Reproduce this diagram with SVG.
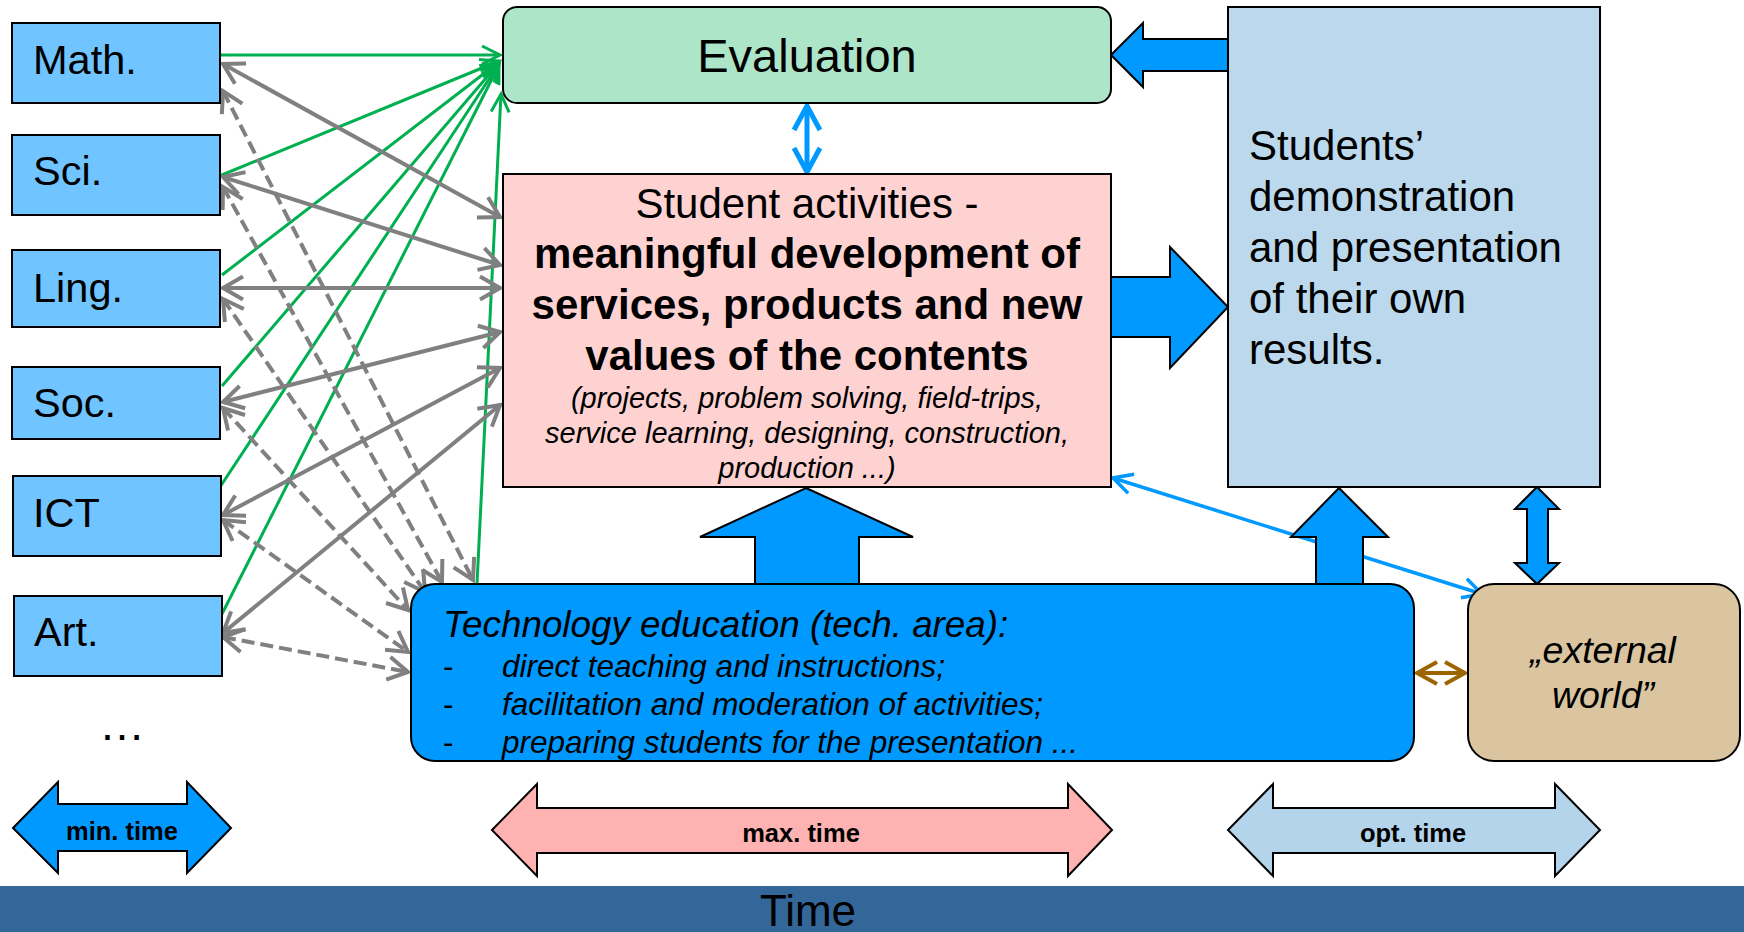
<svg xmlns="http://www.w3.org/2000/svg" width="1744" height="932" viewBox="0 0 1744 932">
<style>
text{font-family:"Liberation Sans",Arial,sans-serif;fill:#000}
.subj{fill:#70c4ff;stroke:#000;stroke-width:2}
.subjt{font-size:41.5px}
.g{stroke:#00b050;stroke-width:3;fill:none;marker-end:url(#mg)}
.s{stroke:#808080;stroke-width:4;fill:none;marker-start:url(#mgr);marker-end:url(#mgr)}
.d{stroke:#808080;stroke-width:4;fill:none;stroke-dasharray:13 6;marker-start:url(#mgr);marker-end:url(#mgr)}
.blk{fill:#0099ff;stroke:#000;stroke-width:2;stroke-linejoin:miter}
.tarrow{stroke:#000;stroke-width:2}
.tl{font-size:25.5px;font-weight:bold;text-anchor:middle}
</style>
<defs>
<marker id="mgr" markerUnits="userSpaceOnUse" viewBox="-24 -14 28 28" refX="0" refY="0" markerWidth="28" markerHeight="28" orient="auto-start-reverse">
<path d="M-20,-11.5 L0,0 L-20,11.5" fill="none" stroke="#808080" stroke-width="4" stroke-dasharray="none"/>
</marker>
<marker id="mg" markerUnits="userSpaceOnUse" viewBox="-22 -12 26 24" refX="0" refY="0" markerWidth="26" markerHeight="24" orient="auto">
<path d="M-18,-9 L0,0 L-18,9" fill="none" stroke="#00b050" stroke-width="3"/>
</marker>
<marker id="mb" markerUnits="userSpaceOnUse" viewBox="-30 -18 36 36" refX="0" refY="0" markerWidth="36" markerHeight="36" orient="auto-start-reverse">
<path d="M-24,-13 L0,0 L-24,13" fill="none" stroke="#0099ff" stroke-width="5"/>
</marker>
<marker id="mbt" markerUnits="userSpaceOnUse" viewBox="-24 -14 28 28" refX="0" refY="0" markerWidth="28" markerHeight="28" orient="auto-start-reverse">
<path d="M-19,-10 L0,0 L-19,10" fill="none" stroke="#0099ff" stroke-width="3.5"/>
</marker>
<marker id="mbr" markerUnits="userSpaceOnUse" viewBox="-24 -14 28 28" refX="0" refY="0" markerWidth="28" markerHeight="28" orient="auto-start-reverse">
<path d="M-20,-11 L0,0 L-20,11" fill="none" stroke="#9c6500" stroke-width="4"/>
</marker>
</defs>
<rect width="1744" height="932" fill="#fff"/>

<g id="connectors">
<!-- green: subjects to evaluation -->
<line class="g" x1="220" y1="55" x2="500" y2="55"/>
<line class="g" x1="217" y1="177" x2="499" y2="61"/>
<line class="g" x1="222" y1="275" x2="499" y2="62"/>
<line class="g" x1="222" y1="386" x2="499" y2="63"/>
<line class="g" x1="220" y1="487" x2="499" y2="64"/>
<line class="g" x1="222" y1="614" x2="499" y2="65"/>
<line class="g" x1="477" y1="584" x2="501" y2="94"/>
<!-- gray solid: subjects to student activities -->
<line class="s" x1="223" y1="64" x2="500" y2="217"/>
<line class="s" x1="223" y1="177" x2="500" y2="265"/>
<line class="s" x1="223" y1="288" x2="500" y2="288"/>
<line class="s" x1="223" y1="402" x2="500" y2="332"/>
<line class="s" x1="223" y1="515" x2="500" y2="368"/>
<line class="s" x1="223" y1="633" x2="500" y2="405"/>
<!-- gray dashed: subjects to technology education -->
<line class="d" x1="223" y1="91" x2="473" y2="580"/>
<line class="d" x1="223" y1="187" x2="442" y2="582"/>
<line class="d" x1="223" y1="299" x2="425" y2="592"/>
<line class="d" x1="223" y1="408" x2="408" y2="610"/>
<line class="d" x1="223" y1="520" x2="408" y2="652"/>
<line class="d" x1="223" y1="637" x2="408" y2="672"/>
<!-- evaluation <-> student activities -->
<line x1="807" y1="106" x2="807" y2="172" stroke="#0099ff" stroke-width="5" marker-start="url(#mb)" marker-end="url(#mb)"/>
<!-- student activities <-> external world -->
<line x1="1113" y1="478" x2="1482" y2="594" stroke="#0099ff" stroke-width="3.5" marker-start="url(#mbt)" marker-end="url(#mbt)"/>
<!-- technology <-> external world -->
<line x1="1417" y1="673" x2="1465" y2="673" stroke="#9c6500" stroke-width="4" marker-start="url(#mbr)" marker-end="url(#mbr)"/>
<!-- block arrows -->
<polygon class="blk" points="1111,55 1143,23 1143,39 1229,39 1229,71 1143,71 1143,87"/>
<polygon class="blk" points="1110,277 1170,277 1170,247 1228,307 1170,368 1170,337 1110,337"/>
<polygon class="blk" points="806,488 913,537 859,537 859,585 755,585 755,537 700,537"/>
<polygon class="blk" points="1339,488 1388,537 1363,537 1363,585 1316,585 1316,537 1291,537"/>
<polygon class="blk" points="1537,487 1559,509 1548,509 1548,563 1559,563 1537,584 1515,563 1527,563 1527,509 1515,509"/>
</g>

<g id="math"><rect class="subj" x="12" y="23" width="208" height="80"/><text class="subjt" x="33" y="74">Math.</text></g>
<g id="sci"><rect class="subj" x="12" y="135" width="208" height="80"/><text class="subjt" x="33" y="185">Sci.</text></g>
<g id="ling"><rect class="subj" x="12" y="250" width="208" height="77"/><text class="subjt" x="33" y="302">Ling.</text></g>
<g id="soc"><rect class="subj" x="12" y="367" width="208" height="72"/><text class="subjt" x="33" y="417">Soc.</text></g>
<g id="ict"><rect class="subj" x="13" y="476" width="208" height="80"/><text class="subjt" x="33" y="527">ICT</text></g>
<g id="art"><rect class="subj" x="14" y="596" width="208" height="80"/><text class="subjt" x="34" y="646">Art.</text></g>
<g id="more"><text x="122" y="740" font-size="46" text-anchor="middle">…</text></g>

<g id="evaluation">
<rect x="503" y="7" width="608" height="96" rx="14" fill="#ade5c9" stroke="#000" stroke-width="2"/>
<text x="807" y="72" font-size="47" text-anchor="middle">Evaluation</text>
</g>

<g id="student-activities">
<rect x="503" y="174" width="608" height="313" fill="#ffd2d2" stroke="#000" stroke-width="2"/>
<text x="807" y="218" font-size="42" text-anchor="middle">Student activities -</text>
<text x="807" y="268" font-size="42" font-weight="bold" text-anchor="middle">meaningful development of</text>
<text x="807" y="319" font-size="42" font-weight="bold" text-anchor="middle">services, products and new</text>
<text x="807" y="370" font-size="42" font-weight="bold" text-anchor="middle">values of the contents</text>
<text x="807" y="408" font-size="29" font-style="italic" text-anchor="middle">(projects, problem solving, field-trips,</text>
<text x="807" y="443" font-size="29" font-style="italic" text-anchor="middle">service learning, designing, construction,</text>
<text x="807" y="478" font-size="29" font-style="italic" text-anchor="middle">production ...)</text>
</g>

<g id="students-presentation">
<rect x="1228" y="7" width="372" height="480" fill="#bbd8ec" stroke="#000" stroke-width="2"/>
<text x="1249" y="160" font-size="42">Students’</text>
<text x="1249" y="211" font-size="42">demonstration</text>
<text x="1249" y="262" font-size="42">and presentation</text>
<text x="1249" y="313" font-size="42">of their own</text>
<text x="1249" y="364" font-size="42">results.</text>
</g>

<g id="technology-education">
<rect x="411" y="584" width="1003" height="177" rx="24" fill="#0099ff" stroke="#000" stroke-width="2"/>
<text x="443" y="637" font-size="36.8" font-style="italic">Technology education (tech. area):</text>
<text x="443" y="677" font-size="31.5">-</text>
<text x="502" y="677" font-size="31.5" font-style="italic">direct teaching and instructions;</text>
<text x="443" y="715" font-size="31.5">-</text>
<text x="502" y="715" font-size="31.5" font-style="italic">facilitation and moderation of activities;</text>
<text x="443" y="753" font-size="31.5">-</text>
<text x="502" y="753" font-size="31.5" font-style="italic">preparing students for the presentation ...</text>
</g>

<g id="external-world">
<rect x="1468" y="584" width="272" height="177" rx="26" fill="#dac5a0" stroke="#000" stroke-width="2"/>
<text x="1603" y="663" font-size="37.5" font-style="italic" text-anchor="middle">„external</text>
<text x="1603" y="708" font-size="37.5" font-style="italic" text-anchor="middle">world”</text>
</g>

<g id="min-time">
<polygon class="tarrow" fill="#0099ff" points="13,828 58,782 58,804 187,804 187,782 231,828 187,873 187,851 58,851 58,873"/>
<text class="tl" x="122" y="840">min. time</text>
</g>
<g id="max-time">
<polygon class="tarrow" fill="#ffb2b2" points="492,830 537,784 537,808 1068,808 1068,784 1112,830 1068,876 1068,853 537,853 537,876"/>
<text class="tl" x="801" y="842">max. time</text>
</g>
<g id="opt-time">
<polygon class="tarrow" fill="#b4d4ec" points="1228,830 1273,784 1273,808 1555,808 1555,784 1600,830 1555,876 1555,853 1273,853 1273,876"/>
<text class="tl" x="1413" y="842">opt. time</text>
</g>

<g id="time-bar">
<rect x="0" y="886" width="1744" height="46" fill="#336699"/>
<text x="808" y="926" font-size="44" text-anchor="middle">Time</text>
</g>
</svg>
